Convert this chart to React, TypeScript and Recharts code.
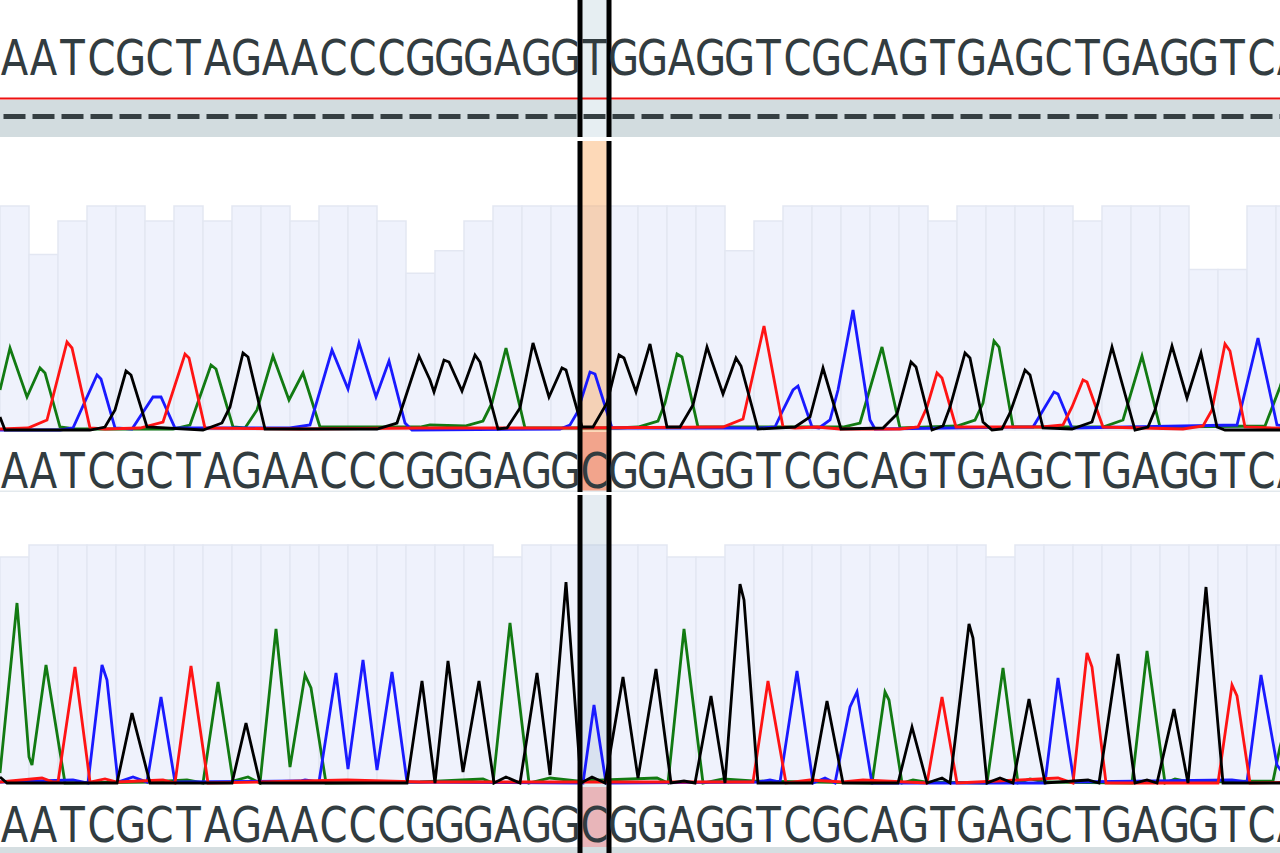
import React from "react";
import {
  ComposedChart,
  Bar,
  Line,
  XAxis,
  YAxis,
  ReferenceArea,
  ReferenceLine,
} from "recharts";

// sequences (one letter per base)
const REFERENCE = "AATCGCTAGAACCCGGGAGGTGGAGGTCGCAGTGAGCTGAGGTCA".split("");
const READ_1 = "AATCGCTAGAACCCGGGAGGCGGAGGTCGCAGTGAGCTGAGGTCA".split("");
const READ_2 = "AATCGCTAGAACCCGGGAGGCGGAGGTCGCAGTGAGCTGAGGTCA".split("");
const SELECTED = 20;

// base-call quality per base
const QUAL_1 = [
  60, 47, 56, 60, 60, 56, 60, 56, 60, 60, 56, 60, 60, 56, 42, 48, 56, 60, 60, 60,
  60, 60, 60, 60, 60, 48, 56, 60, 60, 60, 60, 60, 56, 60, 60, 60, 60, 56, 60, 60,
  60, 43, 43, 60, 60,
];
const QUAL_2 = [
  57, 60, 60, 60, 60, 60, 60, 60, 60, 60, 60, 60, 60, 60, 60, 60, 60, 57, 60, 60,
  60, 60, 60, 57, 57, 60, 60, 60, 60, 60, 60, 60, 60, 60, 57, 60, 60, 60, 60, 60,
  60, 60, 60, 60, 60,
];

// trace vertices [scan, signal]
const T1_A = [[0,40],[10,82],[27,33],[40,62],[45,57],[60,3],[75,1],[143,1],[173,1],[190,5],[211,65],[216,61],[233,3],[245,2],[257,20],[273,74],[289,30],[303,57],[320,3],[420,3],[430,5],[465,4],[483,9],[492,27],[506,82],[525,2],[617,2],[638,3],[658,9],[665,27],[677,76],[682,73],[698,3],[843,3],[860,7],[882,83],[900,2],[957,4],[975,10],[983,27],[994,89],[999,83],[1013,3],[1103,3],[1123,10],[1142,74],[1160,3],[1265,4],[1280,43],[1292,80],[1305,60]];
const T1_C = [[0,0],[60,0],[73,2],[97,55],[101,51],[115,2],[132,1],[153,33],[161,33],[175,2],[290,2],[310,5],[332,80],[348,41],[359,87],[376,33],[389,69],[405,7],[412,0],[560,1],[570,5],[577,17],[590,58],[595,56],[612,2],[760,2],[775,3],[783,20],[793,40],[798,44],[812,3],[819,2],[830,10],[838,40],[853,120],[870,10],[875,1],[1033,3],[1054,38],[1058,36],[1072,2],[1237,5],[1258,92],[1277,5],[1305,1]];
const T1_T = [[0,1],[28,2],[47,10],[67,88],[72,82],[90,2],[105,1],[140,2],[163,8],[185,76],[189,72],[205,2],[300,1],[420,2],[570,2],[723,3],[743,11],[764,104],[783,3],[795,2],[817,3],[840,1],[900,1],[918,3],[927,23],[937,57],[942,52],[956,3],[1042,3],[1063,5],[1072,23],[1083,50],[1087,48],[1103,3],[1183,1],[1203,4],[1212,20],[1225,86],[1230,79],[1245,3],[1305,1]];
const T1_G = [[0,13],[5,0],[90,0],[105,3],[115,20],[126,59],[131,55],[147,3],[203,0],[222,7],[230,23],[243,77],[248,73],[265,1],[377,1],[397,7],[419,74],[430,50],[434,38],[444,70],[449,68],[462,39],[475,75],[480,68],[498,1],[507,2],[520,22],[533,87],[549,33],[562,62],[566,60],[582,3],[593,3],[607,27],[619,75],[624,72],[636,38],[650,86],[667,3],[680,3],[693,25],[707,83],[723,36],[736,72],[741,64],[758,1],[795,3],[810,13],[823,62],[841,1],[883,2],[897,16],[911,68],[916,63],[932,0],[943,4],[950,23],[965,77],[970,72],[983,8],[992,0],[1002,1],[1010,17],[1025,60],[1030,55],[1043,2],[1072,1],[1092,8],[1098,27],[1112,83],[1135,0],[1148,3],[1155,20],[1172,84],[1187,32],[1201,77],[1217,3],[1225,0],[1305,0]];

const T2_A = [[0,10],[17,180],[29,26],[32,18],[46,118],[65,0],[150,1],[187,3],[203,0],[218,101],[233,2],[248,6],[260,0],[276,154],[290,16],[305,108],[311,95],[326,0],[420,1],[483,4],[493,0],[510,160],[529,0],[550,5],[577,2],[657,5],[668,0],[684,154],[703,0],[723,4],[753,2],[872,0],[885,91],[889,83],[902,0],[913,3],[925,1],[987,0],[1003,115],[1018,0],[1030,4],[1045,1],[1132,0],[1147,132],[1165,0],[1175,4],[1190,1],[1273,2],[1280,36],[1295,90],[1305,120]];
const T2_C = [[0,1],[73,3],[88,0],[102,118],[107,103],[118,1],[133,6],[147,1],[161,86],[175,1],[300,2],[305,3],[319,1],[336,110],[348,14],[363,123],[377,13],[392,111],[407,1],[583,0],[594,78],[606,0],[758,1],[770,3],[780,1],[797,112],[813,0],[825,5],[835,0],[850,76],[857,91],[872,0],[1045,0],[1058,105],[1074,1],[1232,3],[1247,1],[1261,108],[1277,18],[1290,0],[1305,0]];
const T2_T = [[0,1],[42,5],[53,1],[58,1],[75,116],[90,1],[105,4],[117,1],[163,3],[175,0],[191,117],[208,0],[260,1],[347,3],[420,1],[600,1],[753,1],[768,102],[786,0],[810,3],[843,1],[863,3],[927,0],[942,86],[957,0],[1058,5],[1073,0],[1087,130],[1092,116],[1106,0],[1218,0],[1232,98],[1237,87],[1250,0],[1305,1]];
const T2_G = [[0,6],[7,0],[117,0],[132,70],[150,0],[232,0],[246,60],[260,0],[407,0],[422,102],[435,0],[448,122],[463,11],[479,102],[494,0],[506,6],[520,0],[537,110],[550,8],[566,201],[581,0],[592,6],[605,0],[623,106],[638,5],[656,114],[671,0],[684,2],[695,0],[711,87],[725,0],[740,199],[744,183],[758,0],[812,0],[827,82],[843,0],[898,0],[912,56],[927,0],[942,5],[950,0],[969,159],[973,145],[987,0],[1000,5],[1013,0],[1029,84],[1045,0],[1088,3],[1099,0],[1118,129],[1135,0],[1147,3],[1157,0],[1174,74],[1188,0],[1206,196],[1223,0],[1305,0]];

const W = 1305;
const ZERO = { top: 0, right: 0, bottom: 0, left: 0 };
const INK = "#323c40";
const COLORS: Record<string, string> = { A: "#127a12", C: "#1a1aff", T: "#ff1414", G: "#000000" };

const rowsOf = (pts: number[][]) => pts.map(([x, v]) => ({ x, v }));

const letterTick = (seq: string[], dy: number, dash?: number) => (p: any) => (
  <g transform={`translate(${p.x},${p.y})`}>
    <text
      transform={`translate(0,${dy}) scale(0.82,1)`}
      textAnchor="middle"
      fontFamily="'DejaVu Sans', sans-serif"
      fontSize={49}
      fill={INK}
    >
      {seq[p.payload.value]}
    </text>
    {dash !== undefined && <rect x={-11} y={dash - 2.5} width={22} height={5} fill="#353f42" />}
  </g>
);

function Header() {
  const rows = REFERENCE.map((b, i) => ({ i }));
  return (
    <ComposedChart width={W} height={137} data={rows} margin={ZERO}>
      <XAxis xAxisId="base" dataKey="i" type="category" scale="band" mirror axisLine={false} tickLine={false}
        tickSize={0} tickMargin={0} interval={0} tick={letterTick(REFERENCE, -62, -20.5)} />
      <YAxis yAxisId="s" hide reversed domain={[0, 137]} allowDataOverflow />
      <ReferenceArea xAxisId="base" yAxisId="s" y1={100} y2={137} fill="#d2dcdf" fillOpacity={1} />
      <ReferenceArea xAxisId="base" yAxisId="s" x1={SELECTED} x2={SELECTED} y1={0} y2={137}
        fill="#e6eef2" fillOpacity={1} zIndex={150} />
      <ReferenceLine xAxisId="base" yAxisId="s" y={98.5} stroke="#ee1111" strokeWidth={2} />
      <ReferenceArea xAxisId="base" yAxisId="s" x1={SELECTED} x2={SELECTED} y1={-60} y2={200}
        fill="none" stroke="#000" strokeWidth={5} ifOverflow="hidden" zIndex={1500} />
    </ComposedChart>
  );
}

type TrackProps = {
  seq: string[];
  qual: number[];
  traces: [string, number[][]][];
  above: number;
  below: number;
  full: number;
  textDy: number;
  overlay: string;
  overlayOpacity: number;
  cellFill: string;
  cellTop: number;
  bottomBand?: boolean;
};

function Track(props: TrackProps) {
  const { seq, qual, traces, above, below, full, textDy, overlay, overlayOpacity, cellFill, cellTop, bottomBand } = props;
  const rows = seq.map((b, i) => ({ i, q: qual[i] }));
  const k = 60 / full;
  return (
    <ComposedChart width={W} height={above + below} data={rows} margin={ZERO} barCategoryGap={0} barGap={0}>
      <XAxis xAxisId="base" dataKey="i" type="category" scale="band" mirror axisLine={false} tickLine={false}
        tickSize={0} tickMargin={0} interval={0} tick={letterTick(seq, textDy)} />
      <XAxis xAxisId="scan" dataKey="x" type="number" domain={[0, W]} hide allowDataOverflow />
      <YAxis yAxisId="s" hide domain={[-below, above]} allowDataOverflow />
      <YAxis yAxisId="q" hide domain={[-below * k, above * k]} allowDataOverflow />
      <ReferenceArea xAxisId="base" yAxisId="s" x1={SELECTED} x2={SELECTED} y1={-below + (bottomBand ? 6 : 0)} y2={cellTop}
        fill={cellFill} fillOpacity={1} />
      {bottomBand ? (
        <ReferenceArea xAxisId="base" yAxisId="s" y1={-below} y2={-below + 6} fill="#d5dee1" fillOpacity={1} />
      ) : (
        <ReferenceArea xAxisId="base" yAxisId="s" y1={-below} y2={-below + 1.5} fill="#e3e9ed" fillOpacity={1} />
      )}
      <Bar xAxisId="base" yAxisId="q" dataKey="q" fill="#eff2fc" stroke="#e3e7f2" strokeWidth={1.5}
        isAnimationActive={false} />
      <ReferenceArea xAxisId="base" yAxisId="s" x1={SELECTED} x2={SELECTED} y1={cellTop} y2={above}
        fill={overlay} fillOpacity={overlayOpacity} zIndex={350} />
      {traces.map(([base, pts]) => (
        <Line key={base} xAxisId="scan" yAxisId="s" data={rowsOf(pts)} dataKey="v" type="linear"
          stroke={COLORS[base]} strokeWidth={2.8} dot={false} activeDot={false} isAnimationActive={false} />
      ))}
      <ReferenceArea xAxisId="base" yAxisId="s" x1={SELECTED} x2={SELECTED} y1={-below - 60} y2={above + 60}
        fill="none" stroke="#000" strokeWidth={5} ifOverflow="hidden" zIndex={1500} />
    </ComposedChart>
  );
}

export default function App() {
  return (
    <div style={{ position: "absolute", left: 0, top: 0, width: 1280, height: 853, overflow: "hidden", background: "#fff" }}>
      <div style={{ position: "absolute", left: 0, top: 0 }}>
        <Header />
      </div>
      <div style={{ position: "absolute", left: 0, top: 141 }}>
        <Track seq={READ_1} qual={QUAL_1}
          traces={[["A", T1_A], ["C", T1_C], ["T", T1_T], ["G", T1_G]]}
          above={289} below={62} full={224} textDy={-4}
          overlay="#faa555" overlayOpacity={0.42} cellFill="#f2a48c" cellTop={-2} />
      </div>
      <div style={{ position: "absolute", left: 0, top: 495 }}>
        <Track seq={READ_2} qual={QUAL_2}
          traces={[["A", T2_A], ["C", T2_C], ["T", T2_T], ["G", T2_G]]}
          above={288} below={70} full={238} textDy={-11}
          overlay="#96b4cd" overlayOpacity={0.25} cellFill="#e8b5b9" cellTop={-4} bottomBand />
      </div>
    </div>
  );
}
